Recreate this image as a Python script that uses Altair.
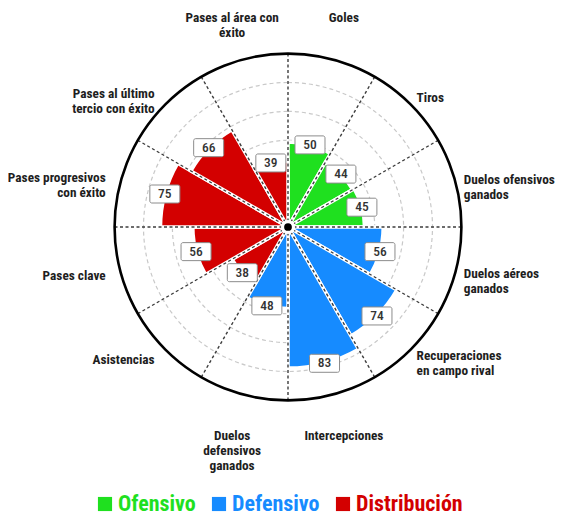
import math
import altair as alt
import pandas as pd

# ---------------- data ----------------
categories = [
    "Goles", "Tiros", "Duelos ofensivos\nganados", "Duelos aéreos\nganados",
    "Recuperaciones\nen campo rival", "Intercepciones", "Duelos\ndefensivos\nganados",
    "Asistencias", "Pases clave", "Pases progresivos\ncon éxito",
    "Pases al último\ntercio con éxito", "Pases al área con\néxito",
]
values = [50, 44, 45, 56, 74, 83, 48, 38, 56, 75, 66, 39]
groups = ["Ofensivo", "Ofensivo", "Ofensivo",
          "Defensivo", "Defensivo", "Defensivo", "Defensivo",
          "Distribución", "Distribución", "Distribución", "Distribución", "Distribución"]
group_names = ["Ofensivo", "Defensivo", "Distribución"]
group_colors = ["#1fe01f", "#168bff", "#d30000"]
ring_steps = [1, 2, 3, 4, 5]

# ---------------- layout / style ----------------
FONT = "Roboto Condensed, Roboto, Liberation Sans, sans-serif"
W, H = 550, 510
CX, CY = 280, 219          # centre of the rose in view pixels
PX = 1.7                   # pixels per unit
OUTER = 102                # outer circle (units)
N = len(categories)
TAU = 2 * math.pi

xscale = alt.Scale(domain=[-100, 100], range=[CX - 100 * PX, CX + 100 * PX])
yscale = alt.Scale(domain=[-100, 100], range=[CY + 100 * PX, CY - 100 * PX])
rscale = alt.Scale(type="linear", domain=[0, 100], range=[0, 100 * PX], zero=True)

df = pd.DataFrame({"cat": categories, "value": values, "group": groups,
                   "i": list(range(N))})
rings = pd.DataFrame({"k": ring_steps})
outer = pd.DataFrame({"r": [OUTER]})
center = pd.DataFrame({"x": [0], "y": [0]})

base = alt.Chart(df).transform_calculate(
    t0=f"datum.i * {TAU} / {N}",
    t1=f"(datum.i + 1) * {TAU} / {N}",
    tm=f"(datum.i + 0.5) * {TAU} / {N}",
).transform_calculate(
    px="datum.value * sin(datum.tm)",
    py="datum.value * cos(datum.tm)",
    zx="0", zy="0",
    sx=f"{OUTER} * sin(datum.t0)",
    sy=f"{OUTER} * cos(datum.t0)",
    s="sin(datum.tm)",
)

ring_layer = alt.Chart(rings).transform_calculate(
    r=f"{OUTER} * datum.k / 6"
).mark_arc(filled=False, stroke="#c9c9c9", strokeWidth=1.2, strokeDash=[4, 3]).encode(
    theta=alt.value(0), theta2=alt.value(TAU),
    radius=alt.Radius("r:Q", scale=rscale, stack=None),
    x=alt.value(CX), y=alt.value(CY),
)

bars = base.mark_arc(stroke="white", strokeWidth=3.5).encode(
    theta=alt.Theta("t0:Q", scale=None, stack=None),
    theta2="t1:Q",
    radius=alt.Radius("value:Q", scale=rscale, stack=None),
    color=alt.Color(
        "group:N",
        scale=alt.Scale(domain=group_names, range=group_colors),
        legend=alt.Legend(
            orient="none", legendX=86, legendY=485, direction="horizontal",
            title=None, symbolType="square", symbolSize=200, symbolStrokeWidth=0,
            symbolOpacity=1,
            labelFont=FONT, labelFontSize=22, labelFontWeight="bold",
            columnPadding=12, labelOffset=2, labelLimit=300,
            labelColor={"expr": "scale('color', datum.value)"},
        ),
    ),
    x=alt.value(CX), y=alt.value(CY),
)

spokes = base.mark_rule(stroke="#3c3c3c", strokeWidth=1.4, strokeDash=[3, 2.5]).encode(
    x=alt.X("zx:Q", scale=xscale, axis=None),
    y=alt.Y("zy:Q", scale=yscale, axis=None),
    x2="sx:Q", y2="sy:Q",
)

outer_circle = alt.Chart(outer).mark_arc(filled=False, stroke="black", strokeWidth=2.6).encode(
    theta=alt.value(0), theta2=alt.value(TAU),
    radius=alt.Radius("r:Q", scale=rscale, stack=None),
    x=alt.value(CX), y=alt.value(CY),
)

hub_white = alt.Chart(center).mark_point(filled=True, shape="circle", size=200,
                                         color="white", opacity=1).encode(
    x=alt.X("x:Q", scale=xscale, axis=None), y=alt.Y("y:Q", scale=yscale, axis=None))
hub_black = alt.Chart(center).mark_point(filled=True, shape="circle", size=60,
                                         color="black", opacity=1).encode(
    x=alt.X("x:Q", scale=xscale, axis=None), y=alt.Y("y:Q", scale=yscale, axis=None))

BOX = ("M-0.87,-0.6 H0.87 A0.13,0.13 0 0 1 1,-0.47 V0.47 A0.13,0.13 0 0 1 0.87,0.6 "
       "H-0.87 A0.13,0.13 0 0 1 -1,0.47 V-0.47 A0.13,0.13 0 0 1 -0.87,-0.6 Z")
boxes = base.mark_point(shape=BOX, size=900, filled=True, fill="white", stroke="#8c8c8c",
                        strokeWidth=1, opacity=1, fillOpacity=1, strokeOpacity=1).encode(
    x=alt.X("px:Q", scale=xscale, axis=None),
    y=alt.Y("py:Q", scale=yscale, axis=None),
)
value_text = base.mark_text(font=FONT, fontSize=13.5, fontWeight=500, color="#333333").encode(
    x=alt.X("px:Q", scale=xscale, axis=None),
    y=alt.Y("py:Q", scale=yscale, axis=None),
    text="value:Q",
)


def cat_layer(cond, radius, align):
    return base.transform_filter(cond).transform_calculate(
        lx=f"{radius} * sin(datum.tm)", ly=f"{radius} * cos(datum.tm)"
    ).mark_text(font=FONT, fontSize=13.3, fontWeight="bold", color="#1e1e1e",
                lineBreak="\n", lineHeight=15, align=align, baseline="middle").encode(
        x=alt.X("lx:Q", scale=xscale, axis=None),
        y=alt.Y("ly:Q", scale=yscale, axis=None),
        text="cat:N",
    )


labels_right = cat_layer("datum.s > 0.6", 107, "left")
labels_left = cat_layer("datum.s < -0.6", 111, "right")
labels_mid = cat_layer("abs(datum.s) <= 0.6", 127, "center")

chart = alt.layer(
    ring_layer, bars, spokes, outer_circle, hub_white, hub_black,
    boxes, value_text, labels_right, labels_left, labels_mid,
).properties(
    width=W, height=H, padding=0,
    autosize=alt.AutoSizeParams(type="none"),
).configure_view(stroke=None)

chart.save("out.html", embed_options={"renderer": "svg", "actions": False})
